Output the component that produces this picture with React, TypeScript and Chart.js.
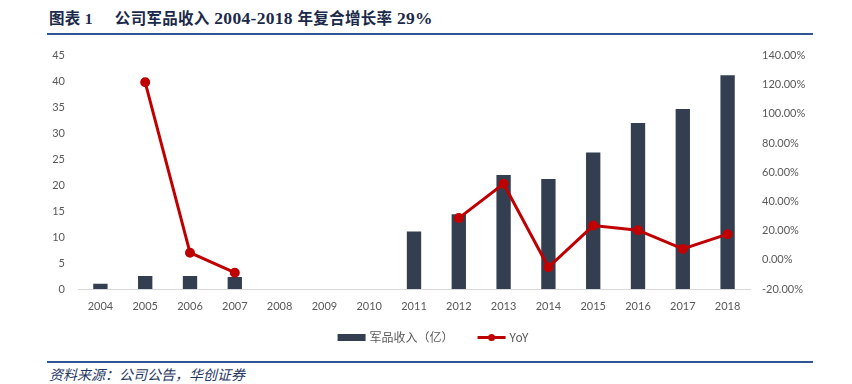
import React, { useEffect, useRef } from "react";
import { Chart, registerables } from "chart.js";

Chart.register(...registerables);

const categories = ["2004", "2005", "2006", "2007", "2008", "2009", "2010", "2011", "2012", "2013", "2014", "2015", "2016", "2017", "2018"];
const revenue = [1.0, 2.5, 2.5, 2.3, null, null, null, 11.1, 14.4, 22.0, 21.2, 26.3, 32.0, 34.7, 41.2];
const yoy = [null, 121.7, 4.9, -8.8, null, null, null, null, 28.6, 52.1, -5.1, 23.5, 20.3, 7.5, 17.6];
const barLabel = "军品收入（亿）";
const lineLabel = "YoY";
const titleLead = "图表 1";
const titleParts = ["公司军品收入", " 2004-2018 ", "年复合增长率", " 29%"];
const sourceText = "资料来源：公司公告，华创证券";

const BAR_COLOR = "#333F50";
const LINE_COLOR = "#C00000";
const TICK_COLOR = "#595959";
const TICK_FONT = { family: "Lato, 'Noto Sans CJK SC', sans-serif", size: 11 };

const legendPlugin = {
  id: "customLegend",
  afterDraw(chart: any) {
    const ctx = chart.ctx;
    ctx.save();
    ctx.font = "12px 'Noto Sans CJK SC', Lato, sans-serif";
    ctx.textBaseline = "middle";
    ctx.fillStyle = TICK_COLOR;
    const w1 = ctx.measureText(barLabel).width;
    const w2 = ctx.measureText(lineLabel).width;
    const box = 28;
    const gap = 4;
    const itemGap = 24;
    const total = box + gap + w1 + itemGap + box + gap + w2;
    let x = 433 - total / 2;
    const y = chart.chartArea.bottom + 48.5;
    ctx.fillStyle = BAR_COLOR;
    ctx.fillRect(x, y - 3.5, box, 7);
    x += box + gap;
    ctx.fillStyle = TICK_COLOR;
    ctx.fillText(barLabel, x, y);
    x += w1 + itemGap;
    ctx.strokeStyle = LINE_COLOR;
    ctx.lineWidth = 3;
    ctx.beginPath();
    ctx.moveTo(x, y);
    ctx.lineTo(x + box, y);
    ctx.stroke();
    ctx.fillStyle = LINE_COLOR;
    ctx.beginPath();
    ctx.arc(x + box / 2, y, 3.5, 0, Math.PI * 2);
    ctx.fill();
    x += box + gap;
    ctx.fillStyle = TICK_COLOR;
    ctx.fillText(lineLabel, x, y);
    ctx.restore();
  },
};

export default function App() {
  const ref = useRef<HTMLCanvasElement | null>(null);
  useEffect(() => {
    if (!ref.current) return;
    const chart = new Chart(ref.current, {
      type: "bar",
      data: {
        labels: categories,
        datasets: [
          {
            type: "line",
            label: lineLabel,
            data: yoy,
            yAxisID: "y1",
            borderColor: LINE_COLOR,
            backgroundColor: LINE_COLOR,
            borderWidth: 3,
            pointRadius: 3.5,
            pointBackgroundColor: LINE_COLOR,
            pointBorderColor: LINE_COLOR,
            spanGaps: false,
            order: 0,
          } as any,
          {
            type: "bar",
            label: barLabel,
            data: revenue,
            yAxisID: "y",
            backgroundColor: BAR_COLOR,
            barPercentage: 0.32,
            categoryPercentage: 1,
            order: 1,
          } as any,
        ],
      },
      options: {
        animation: false,
        responsive: false,
        maintainAspectRatio: false,
        layout: { padding: { top: 16, bottom: 0, left: 0, right: 0 } },
        plugins: { legend: { display: false }, tooltip: { enabled: false } },
        scales: {
          x: {
            grid: { display: false, drawTicks: false },
            border: { display: true, color: "#D9D9D9", width: 1 },
            ticks: { color: TICK_COLOR, font: TICK_FONT, padding: 11, maxRotation: 0, autoSkip: false },
            afterFit: (s: any) => { s.height = 61; },
          },
          y: {
            position: "left",
            min: 0,
            max: 45,
            grid: { display: false, drawTicks: false },
            border: { display: false },
            ticks: { stepSize: 5, color: TICK_COLOR, font: TICK_FONT, padding: 13 },
            afterFit: (s: any) => { s.width = 78; },
          },
          y1: {
            position: "right",
            min: -20,
            max: 140,
            grid: { display: false, drawTicks: false },
            border: { display: false },
            ticks: {
              stepSize: 20,
              color: TICK_COLOR,
              font: TICK_FONT,
              padding: 12,
              callback: (v: any) => Number(v).toFixed(2) + "%",
            },
            afterFit: (s: any) => { s.width = 102; },
          },
        },
      } as any,
      plugins: [legendPlugin],
    });
    return () => chart.destroy();
  }, []);

  const titleFont = "'Liberation Serif', 'Noto Sans CJK SC', serif";
  return (
    <div style={{ position: "absolute", left: 0, top: 0, width: 852, height: 384, background: "#fff", overflow: "hidden" }}>
      <div
        style={{
          position: "absolute",
          left: 49,
          top: 8,
          fontFamily: titleFont,
          fontWeight: 700,
          fontSize: 15.5,
          lineHeight: "20px",
          color: "#1B2A4A",
          whiteSpace: "pre",
          letterSpacing: 0.3,
        }}
      >
        <span>{titleLead}</span>
        <span style={{ display: "inline-block", width: 22 }} />
        <span>{titleParts[0]}</span>
        <span style={{ fontSize: 17.5 }}>{titleParts[1]}</span>
        <span>{titleParts[2]}</span>
        <span style={{ fontSize: 17.5 }}>{titleParts[3]}</span>
      </div>
      <div style={{ position: "absolute", left: 47, top: 33, width: 766, height: 2, background: "#2F5597" }} />
      <canvas ref={ref} width={852} height={314} style={{ position: "absolute", left: 0, top: 36, width: 852, height: 314 }} />
      <div style={{ position: "absolute", left: 47, top: 361, width: 766, height: 2, background: "#2F5597" }} />
      <div
        style={{
          position: "absolute",
          left: 49,
          top: 365,
          fontFamily: "'Noto Sans CJK SC', sans-serif",
          fontStyle: "italic",
          fontSize: 14,
          lineHeight: "18px",
          color: "#1F3864",
          whiteSpace: "pre",
        }}
      >
        {sourceText}
      </div>
    </div>
  );
}
